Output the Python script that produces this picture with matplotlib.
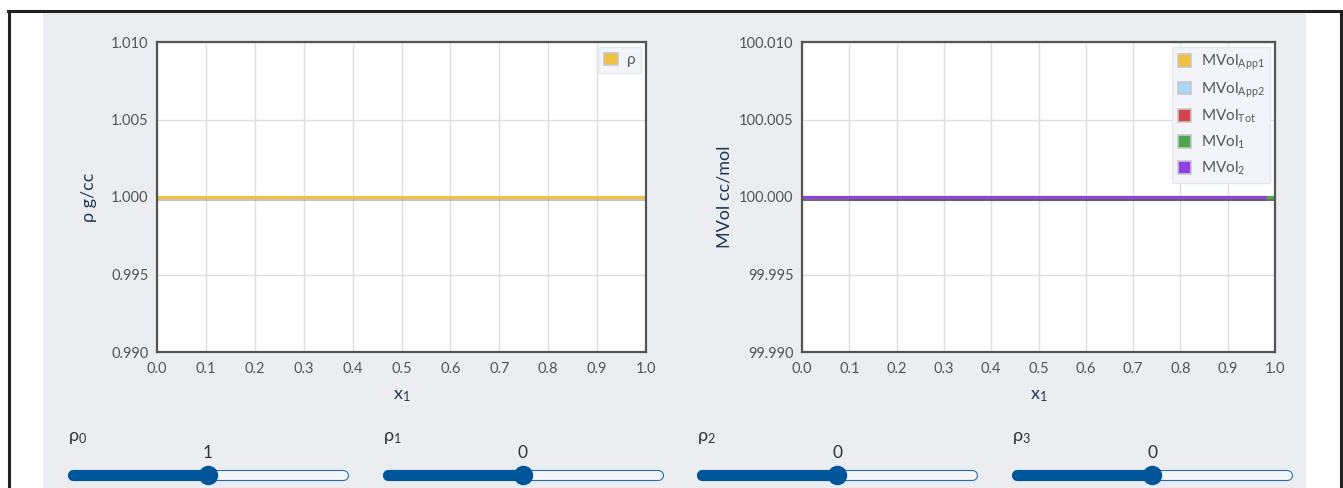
import matplotlib
matplotlib.use("Agg")
import matplotlib.pyplot as plt
import matplotlib.patheffects as pe
from matplotlib.patches import Rectangle
import numpy as np

plt.rcParams['font.family'] = ['Lato', 'DejaVu Sans']
plt.rcParams['mathtext.fontset'] = 'custom'
plt.rcParams['mathtext.rm'] = 'Lato'
plt.rcParams['mathtext.it'] = 'Lato'

# mole fraction of component 1
x1 = [0.0, 0.1, 0.2, 0.3, 0.4, 0.5, 0.6, 0.7, 0.8, 0.9, 0.98, 1.0]

# density (g/cc)
rho = [1.0, 1.0, 1.0, 1.0, 1.0, 1.0, 1.0, 1.0, 1.0, 1.0, 1.0, 1.0]

# molar volumes (cc/mol)
mvol_app1 = [100.0, 100.0, 100.0, 100.0, 100.0, 100.0, 100.0, 100.0, 100.0, 100.0, 100.0, 100.0]
mvol_app2 = [100.0, 100.0, 100.0, 100.0, 100.0, 100.0, 100.0, 100.0, 100.0, 100.0, 100.0, 100.0]
mvol_tot = [100.0, 100.0, 100.0, 100.0, 100.0, 100.0, 100.0, 100.0, 100.0, 100.0, 100.0, 100.0]
mvol_1 = [np.nan, 100.0, 100.0, 100.0, 100.0, 100.0, 100.0, 100.0, 100.0, 100.0, 100.0, 100.0]
mvol_2 = [100.0, 100.0, 100.0, 100.0, 100.0, 100.0, 100.0, 100.0, 100.0, 100.0, 100.0, np.nan]

mvol_labels = [r'MVol$_{\mathrm{App1}}$', r'MVol$_{\mathrm{App2}}$', r'MVol$_{\mathrm{Tot}}$',
               r'MVol$_{1}$', r'MVol$_{2}$']
mvol_colors = ['#F0C23B', '#AAD6F7', '#D2434A', '#4DA64D', '#9140E6']

# slider settings for the density coefficients
slider_names = [r'ρ$_0$', r'ρ$_1$', r'ρ$_2$', r'ρ$_3$']
slider_values = [1, 0, 0, 0]
slider_min = [0, -1, -1, -1]
slider_max = [2, 1, 1, 1]

W, H = 1343, 488
fig = plt.figure(figsize=(W / 100, H / 100), dpi=100)
fig.patch.set_facecolor('white')

def fx(px):
    return px / W

def fy(py):
    return 1 - py / H

# grey panel and black frame
fig.add_artist(Rectangle((fx(43), 0), fx(1306) - fx(43), fy(13), transform=fig.transFigure,
                         facecolor='#ECEDF1', edgecolor='none', zorder=-10))
fig.add_artist(plt.Line2D([fx(9), fx(9)], [0, fy(11)], transform=fig.transFigure, color='#222', lw=2.2))
fig.add_artist(plt.Line2D([fx(1340.5), fx(1340.5)], [0, fy(11)], transform=fig.transFigure, color='#222', lw=2.2))
fig.add_artist(plt.Line2D([fx(8), fx(1342)], [fy(11), fy(11)], transform=fig.transFigure, color='#222', lw=2.2))

tick_color = '#555555'
label_color = '#1D3857'
shadow = [pe.SimpleLineShadow(offset=(0, -1.2), shadow_color='#444', alpha=0.3), pe.Normal()]


def style_axes(ax):
    ax.set_facecolor('white')
    ax.set_xlim(0, 1)
    ax.set_xticks(np.arange(0, 1.01, 0.1))
    ax.xaxis.set_major_formatter(plt.FormatStrFormatter('%.1f'))
    ax.grid(True, color='#DEDEDE', lw=1)
    ax.set_axisbelow(True)
    for s in ax.spines.values():
        s.set_color('#555555')
        s.set_linewidth(1.6)
    ax.tick_params(length=0, labelsize=10.5, colors=tick_color)
    ax.tick_params(axis='x', pad=7)
    ax.tick_params(axis='y', pad=6)
    ax.set_xlabel(r'x$_1$', fontsize=13, color=label_color, labelpad=9)


def legend_box(ax, labels, colors):
    handles = [Rectangle((0, 0), 1, 1, facecolor=c, edgecolor='#C8C8C8', lw=1.2) for c in colors]
    leg = ax.legend(handles, labels, loc='upper right', fontsize=11, frameon=True,
                    fancybox=False, handlelength=0.9, handleheight=0.9, handletextpad=0.6,
                    borderpad=0.4, labelspacing=0.55, borderaxespad=0.3)
    leg.get_frame().set_facecolor('#F3F4FA')
    leg.get_frame().set_edgecolor('#E6E7EE')
    leg.get_frame().set_alpha(1)
    for t in leg.get_texts():
        t.set_color('#555555')
    return leg


# density panel
ax1 = fig.add_axes([fx(157), fy(352), fx(646) - fx(157), fy(42) - fy(352)])
style_axes(ax1)
ax1.plot(x1, rho, color='#F0C23B', lw=2.2, path_effects=shadow, solid_capstyle='butt')
ax1.set_ylim(0.99, 1.01)
ax1.set_yticks([0.990, 0.995, 1.000, 1.005, 1.010])
ax1.yaxis.set_major_formatter(plt.FormatStrFormatter('%.3f'))
ax1.set_ylabel('ρ g/cc', fontsize=13, color=label_color, labelpad=10)
legend_box(ax1, ['ρ'], ['#F0C23B'])

# molar volume panel
ax2 = fig.add_axes([fx(802), fy(352), fx(1275) - fx(802), fy(42) - fy(352)])
style_axes(ax2)
for ys, c in zip([mvol_app1, mvol_app2, mvol_tot, mvol_1, mvol_2], mvol_colors):
    ax2.plot(x1, ys, color=c, lw=2.2, path_effects=shadow, solid_capstyle='butt')
ax2.set_ylim(99.99, 100.01)
ax2.set_yticks([99.990, 99.995, 100.000, 100.005, 100.010])
ax2.yaxis.set_major_formatter(plt.FormatStrFormatter('%.3f'))
ax2.set_ylabel('MVol cc/mol', fontsize=13, color=label_color, labelpad=5)
legend_box(ax2, mvol_labels, mvol_colors)

# coefficient sliders (track ends are rounded, so inset by the cap radius)
slider_left = [73, 388, 702, 1017]
slider_width = 270
for name, val, lo, hi, left in zip(slider_names, slider_values, slider_min, slider_max, slider_left):
    sx = fig.add_axes([fx(left), fy(485), fx(left + slider_width) - fx(left), fy(465) - fy(485)])
    sx.set_xlim(lo, hi)
    sx.set_ylim(-1, 1)
    sx.axis('off')
    sx.plot([lo, hi], [0, 0], color='#2A6CB0', lw=8, solid_capstyle='round', clip_on=False)
    sx.plot([lo, hi], [0, 0], color='#F4F6FC', lw=6.4, solid_capstyle='round', clip_on=False)
    sx.plot([lo, val], [0, 0], color='#00569A', lw=8, solid_capstyle='round', clip_on=False)
    sx.plot([val], [0], 'o', color='#00569A', ms=13, clip_on=False)
    fig.text(fx(left - 5), fy(438), name, fontsize=13, color='#333333', va='center', ha='left')
    kx = fx(left) + (val - lo) / (hi - lo) * (fx(left + slider_width) - fx(left))
    fig.text(kx, fy(453), str(val), fontsize=12.5, color='#333333', va='center', ha='center')

fig.savefig('out.png', dpi=100)
